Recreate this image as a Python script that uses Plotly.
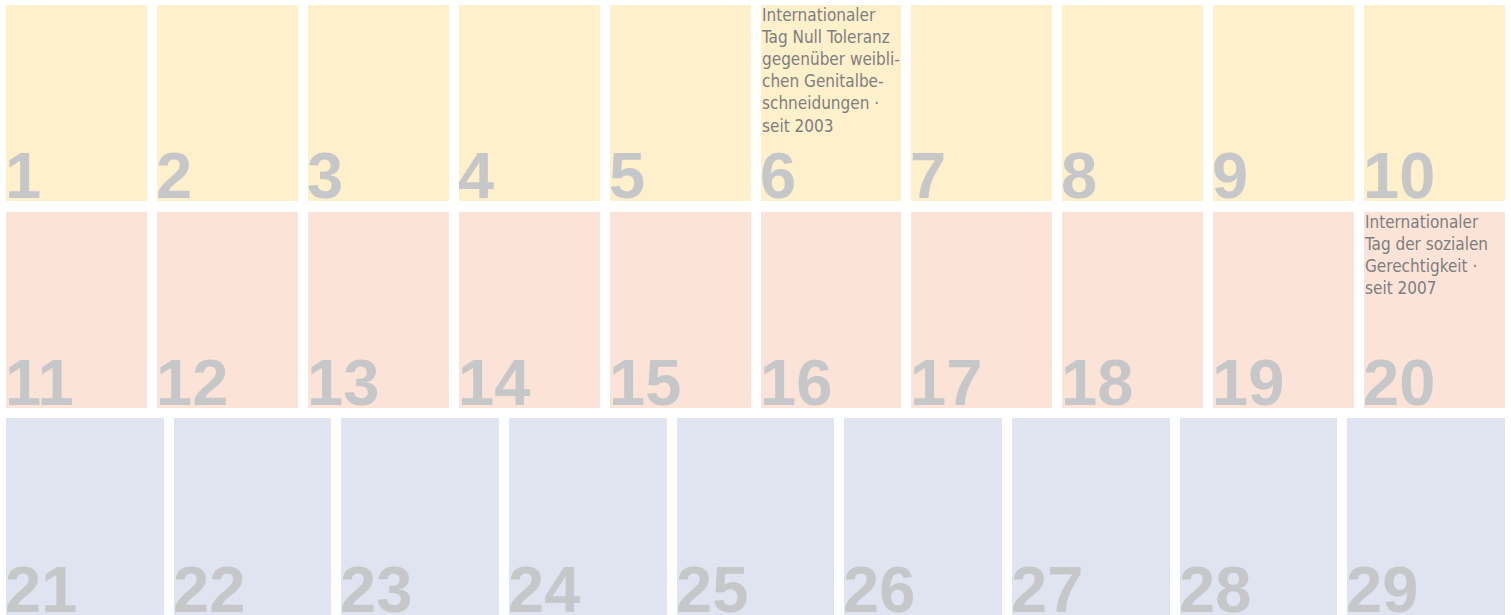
import plotly.graph_objects as go

# ---- data ----
days_row1 = [1, 2, 3, 4, 5, 6, 7, 8, 9, 10]
days_row2 = [11, 12, 13, 14, 15, 16, 17, 18, 19, 20]
days_row3 = [21, 22, 23, 24, 25, 26, 27, 28, 29]
row_colors = ["#FFF0CC", "#FCE3D8", "#DFE4F0"]
events = {
    6: "Internationaler<br>Tag Null Toleranz<br>gegenüber weibli-<br>chen Genitalbe-<br>schneidungen ·<br>seit 2003",
    20: "Internationaler<br>Tag der sozialen<br>Gerechtigkeit ·<br>seit 2007",
}

W, H = 1511, 615
rows = [days_row1, days_row2, days_row3]
# vertical domains (paper fractions) for each row
domains = [(1 - 201 / H, 1 - 5 / H), (1 - 408 / H, 1 - 212 / H), (0.0, 1 - 418 / H)]
x_dom = (6 / W, 1505 / W)
gap_px = 10

fig = go.Figure()
annotations = []
NUM_COLOR = "#C6C7C9"
TXT_COLOR = "#7E7E7E"

for r, days in enumerate(rows):
    n = len(days)
    span_px = (x_dom[1] - x_dom[0]) * W
    pitch = (span_px + gap_px) / n
    w = (pitch - gap_px) / pitch
    cols = list(range(n))
    sfx = "" if r == 0 else str(r + 1)
    fig.add_trace(go.Bar(
        x=cols, y=[1] * n, base=0, width=w,
        marker=dict(color=row_colors[r], line=dict(width=0)),
        xaxis="x" + sfx, yaxis="y" + sfx,
        hoverinfo="skip", showlegend=False,
    ))
    fig.update_layout(**{
        "xaxis" + sfx: dict(domain=list(x_dom), range=[-w / 2, n - 1 + w / 2],
                            visible=False, fixedrange=True, anchor="y" + sfx),
        "yaxis" + sfx: dict(domain=list(domains[r]), range=[0, 1],
                            visible=False, fixedrange=True, anchor="x" + sfx),
    })
    for c, d in zip(cols, days):
        annotations.append(dict(
            x=c - w / 2, y=0, xref="x" + sfx, yref="y" + sfx,
            text=str(d), showarrow=False, xanchor="left", yanchor="bottom",
            xshift=-3, yshift=-13,
            font=dict(family="Liberation Sans, Arial, sans-serif", size=65,
                      color=NUM_COLOR, weight="bold"),
        ))
        if d in events:
            annotations.append(dict(
                x=c - w / 2, y=1, xref="x" + sfx, yref="y" + sfx,
                text=events[d], showarrow=False, xanchor="left", yanchor="top",
                align="left", xshift=-2, yshift=2,
                font=dict(family="DejaVu Sans Condensed, Liberation Sans Narrow, sans-serif",
                          size=17, color=TXT_COLOR),
            ))

fig.update_layout(
    width=W, height=H,
    margin=dict(l=0, r=0, t=0, b=0),
    paper_bgcolor="white", plot_bgcolor="rgba(0,0,0,0)",
    bargap=0, annotations=annotations,
)

fig.write_html(
    "out.html",
    config={"displayModeBar": False},
    post_script="document.body.style.margin='0';document.body.style.overflow='hidden';",
)
